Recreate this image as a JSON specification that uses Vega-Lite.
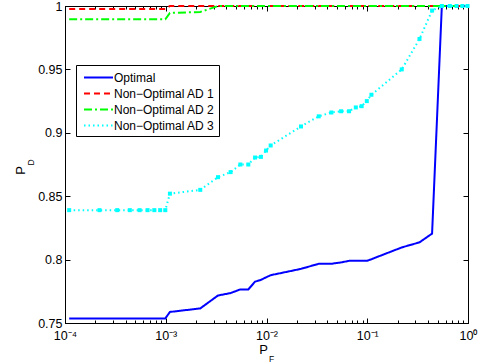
{
  "$schema": "https://vega.github.io/schema/vega-lite/v6.json",
  "width": 403,
  "height": 317,
  "autosize": "none",
  "padding": {"left": 65, "top": 6, "right": 14, "bottom": 41},
  "config": {
    "font": "Liberation Sans",
    "view": {"stroke": "black", "strokeWidth": 1},
    "axis": {
      "grid": false,
      "domainColor": "black",
      "tickColor": "black",
      "labelColor": "black",
      "titleColor": "black",
      "labelFont": "Liberation Sans",
      "titleFont": "Liberation Sans",
      "labelFontSize": 12.5,
      "titleFontWeight": "normal"
    }
  },
  "resolve": {"axis": {"x": "independent", "y": "independent"}},
  "data": {
    "values": [
      {"pf": 0.00011, "opt": 0.7536, "ad1": 0.9976, "ad2": 0.9895, "ad3": 0.839},
      {"pf": 0.00022, "opt": 0.7536, "ad1": 0.9976, "ad2": 0.9895, "ad3": 0.839},
      {"pf": 0.00033, "opt": 0.7536, "ad1": 0.9976, "ad2": 0.9895, "ad3": 0.839},
      {"pf": 0.00044, "opt": 0.7536, "ad1": 0.9976, "ad2": 0.9895, "ad3": 0.839},
      {"pf": 0.00055, "opt": 0.7536, "ad1": 0.9976, "ad2": 0.9895, "ad3": 0.839},
      {"pf": 0.00066, "opt": 0.7536, "ad1": 0.9976, "ad2": 0.9895, "ad3": 0.839},
      {"pf": 0.00077, "opt": 0.7536, "ad1": 0.9976, "ad2": 0.9895, "ad3": 0.839},
      {"pf": 0.00088, "opt": 0.7536, "ad1": 0.9976, "ad2": 0.9895, "ad3": 0.839},
      {"pf": 0.00099, "opt": 0.7536, "ad1": 0.9976, "ad2": 0.9895, "ad3": 0.839},
      {"pf": 0.0011, "opt": 0.7587, "ad1": 1.0, "ad2": 0.9945, "ad3": 0.852},
      {"pf": 0.0022, "opt": 0.7615, "ad1": 1.0, "ad2": 0.9953, "ad3": 0.855},
      {"pf": 0.0033, "opt": 0.7717, "ad1": 1.0, "ad2": 1.0, "ad3": 0.865},
      {"pf": 0.0044, "opt": 0.7736, "ad1": 1.0, "ad2": 1.0, "ad3": 0.869},
      {"pf": 0.0055, "opt": 0.7765, "ad1": 1.0, "ad2": 1.0, "ad3": 0.875},
      {"pf": 0.0066, "opt": 0.7765, "ad1": 1.0, "ad2": 1.0, "ad3": 0.875},
      {"pf": 0.0077, "opt": 0.7826, "ad1": 1.0, "ad2": 1.0, "ad3": 0.8805},
      {"pf": 0.0088, "opt": 0.784, "ad1": 1.0, "ad2": 1.0, "ad3": 0.881},
      {"pf": 0.0099, "opt": 0.786, "ad1": 1.0, "ad2": 1.0, "ad3": 0.886},
      {"pf": 0.011, "opt": 0.7877, "ad1": 1.0, "ad2": 1.0, "ad3": 0.89},
      {"pf": 0.022, "opt": 0.7927, "ad1": 1.0, "ad2": 1.0, "ad3": 0.905},
      {"pf": 0.033, "opt": 0.7967, "ad1": 1.0, "ad2": 1.0, "ad3": 0.913},
      {"pf": 0.044, "opt": 0.7967, "ad1": 1.0, "ad2": 1.0, "ad3": 0.916},
      {"pf": 0.055, "opt": 0.7978, "ad1": 1.0, "ad2": 1.0, "ad3": 0.917},
      {"pf": 0.066, "opt": 0.799, "ad1": 1.0, "ad2": 1.0, "ad3": 0.917},
      {"pf": 0.077, "opt": 0.799, "ad1": 1.0, "ad2": 1.0, "ad3": 0.92},
      {"pf": 0.088, "opt": 0.799, "ad1": 1.0, "ad2": 1.0, "ad3": 0.921},
      {"pf": 0.099, "opt": 0.799, "ad1": 1.0, "ad2": 1.0, "ad3": 0.925},
      {"pf": 0.11, "opt": 0.8003, "ad1": 1.0, "ad2": 1.0, "ad3": 0.93},
      {"pf": 0.22, "opt": 0.8096, "ad1": 1.0, "ad2": 1.0, "ad3": 0.95},
      {"pf": 0.33, "opt": 0.8136, "ad1": 1.0, "ad2": 1.0, "ad3": 0.974},
      {"pf": 0.44, "opt": 0.8205, "ad1": 1.0, "ad2": 1.0, "ad3": 0.9964},
      {"pf": 0.55, "opt": 1.0, "ad1": 1.0, "ad2": 1.0, "ad3": 1.0},
      {"pf": 0.66, "opt": 1.0, "ad1": 1.0, "ad2": 1.0, "ad3": 1.0},
      {"pf": 0.77, "opt": 1.0, "ad1": 1.0, "ad2": 1.0, "ad3": 1.0},
      {"pf": 0.88, "opt": 1.0, "ad1": 1.0, "ad2": 1.0, "ad3": 1.0},
      {"pf": 0.99, "opt": 1.0, "ad1": 1.0, "ad2": 1.0, "ad3": 1.0}
    ]
  },
  "transform": [{"fold": ["opt", "ad1", "ad2", "ad3"], "as": ["series", "pd"]}],
  "layer": [
    {
      "mark": {"type": "line", "clip": false},
      "encoding": {
        "x": {
          "field": "pf", "type": "quantitative",
          "scale": {"type": "log", "domain": [0.0001, 1], "nice": false},
          "axis": {
            "orient": "bottom",
            "values": [0.0001,0.0002,0.0003,0.0004,0.0005,0.0006,0.0007,0.0008,0.0009,0.001,0.002,0.003,0.004,0.005,0.006,0.007,0.008,0.009,0.01,0.02,0.03,0.04,0.05,0.06,0.07,0.08,0.09,0.1,0.2,0.3,0.4,0.5,0.6,0.7,0.8,0.9,1],
            "labelExpr": "abs(log(datum.value)/LN10 - round(log(datum.value)/LN10)) < 0.001 ? ['10⁻⁴','10⁻³','10⁻²','10⁻¹','10⁰'][round(log(datum.value)/LN10)+4] : ''",
            "tickSize": {"condition": {"test": "abs(log(datum.value)/LN10 - round(log(datum.value)/LN10)) < 0.001", "value": -5}, "value": -3},
            "labelPadding": 11,
            "labelFlush": false,
            "labelOverlap": false,
            "title": "P",
            "titleFontSize": 13,
            "titleBaseline": "middle",
            "titleX": 198,
            "titleY": 26
          }
        },
        "y": {
          "field": "pd", "type": "quantitative",
          "scale": {"domain": [0.75, 1], "nice": false, "zero": false},
          "axis": {
            "orient": "left",
            "values": [0.75, 0.8, 0.85, 0.9, 0.95, 1],
            "format": "~g",
            "tickSize": -5,
            "labelPadding": 8,
            "labelFlush": false,
            "title": "P",
            "titleFontSize": 13,
            "titleBaseline": "middle",
            "titleX": -45,
            "titleY": 164
          }
        },
        "color": {
          "field": "series", "type": "nominal",
          "scale": {"domain": ["opt", "ad1", "ad2", "ad3"], "range": ["#0000ff", "#ff0000", "#00ff00", "#00ffff"]},
          "legend": {
            "title": null,
            "orient": "none",
            "legendX": 11,
            "legendY": 59,
            "fillColor": "white",
            "strokeColor": "black",
            "padding": 4,
            "symbolType": "M-2,0H2",
            "symbolSize": 210,
            "symbolStrokeWidth": 1.5,
            "symbolOffset": 10,
            "labelFont": "Liberation Sans",
            "labelFontSize": 12,
            "labelColor": "black",
            "labelOffset": 7,
            "rowPadding": 1,
            "labelExpr": "datum.label == 'opt' ? 'Optimal' : datum.label == 'ad1' ? 'Non−Optimal AD 1' : datum.label == 'ad2' ? 'Non−Optimal AD 2' : 'Non−Optimal AD 3'"
          }
        },
        "strokeDash": {
          "field": "series", "type": "nominal",
          "scale": {"domain": ["opt", "ad1", "ad2", "ad3"], "range": [[1, 0], [6, 4], [8, 3, 2, 3], [1.5, 3]]},
          "legend": {
            "title": null,
            "orient": "none",
            "legendX": 11,
            "legendY": 59,
            "fillColor": "white",
            "strokeColor": "black",
            "padding": 4,
            "symbolType": "M-2,0H2",
            "symbolSize": 210,
            "symbolStrokeWidth": 1.5,
            "symbolOffset": 10,
            "labelFont": "Liberation Sans",
            "labelFontSize": 12,
            "labelColor": "black",
            "labelOffset": 7,
            "rowPadding": 1,
            "labelExpr": "datum.label == 'opt' ? 'Optimal' : datum.label == 'ad1' ? 'Non−Optimal AD 1' : datum.label == 'ad2' ? 'Non−Optimal AD 2' : 'Non−Optimal AD 3'"
          }
        },
        "strokeWidth": {
          "field": "series", "type": "nominal",
          "scale": {"domain": ["opt", "ad1", "ad2", "ad3"], "range": [2, 2, 1.5, 1.5]},
          "legend": null
        }
      }
    },
    {
      "transform": [{"filter": "datum.series == 'ad3'"}],
      "mark": {"type": "point", "shape": "square", "filled": true, "color": "#00ffff", "size": 16, "opacity": 1, "clip": false},
      "encoding": {
        "x": {"field": "pf", "type": "quantitative", "axis": null},
        "y": {"field": "pd", "type": "quantitative", "axis": null}
      }
    },
    {
      "mark": {"type": "point", "opacity": 0},
      "encoding": {
        "x": {
          "field": "pf", "type": "quantitative",
          "axis": {
            "orient": "top",
            "values": [0.0001,0.0002,0.0003,0.0004,0.0005,0.0006,0.0007,0.0008,0.0009,0.001,0.002,0.003,0.004,0.005,0.006,0.007,0.008,0.009,0.01,0.02,0.03,0.04,0.05,0.06,0.07,0.08,0.09,0.1,0.2,0.3,0.4,0.5,0.6,0.7,0.8,0.9,1],
            "labels": false,
            "labelExpr": "''",
            "tickSize": {"condition": {"test": "abs(log(datum.value)/LN10 - round(log(datum.value)/LN10)) < 0.001", "value": -5}, "value": -3},
            "title": "F",
            "titleFontSize": 8.5,
            "titleBaseline": "middle",
            "titleX": 206,
            "titleY": 352
          }
        },
        "y": {
          "field": "pd", "type": "quantitative",
          "axis": {
            "orient": "right",
            "values": [0.75, 0.8, 0.85, 0.9, 0.95, 1],
            "labels": false,
            "labelExpr": "''",
            "tickSize": -5,
            "title": "D",
            "titleFontSize": 8.5,
            "titleAngle": 270,
            "titleBaseline": "middle",
            "titleX": -438,
            "titleY": 156
          }
        }
      }
    }
  ]
}
